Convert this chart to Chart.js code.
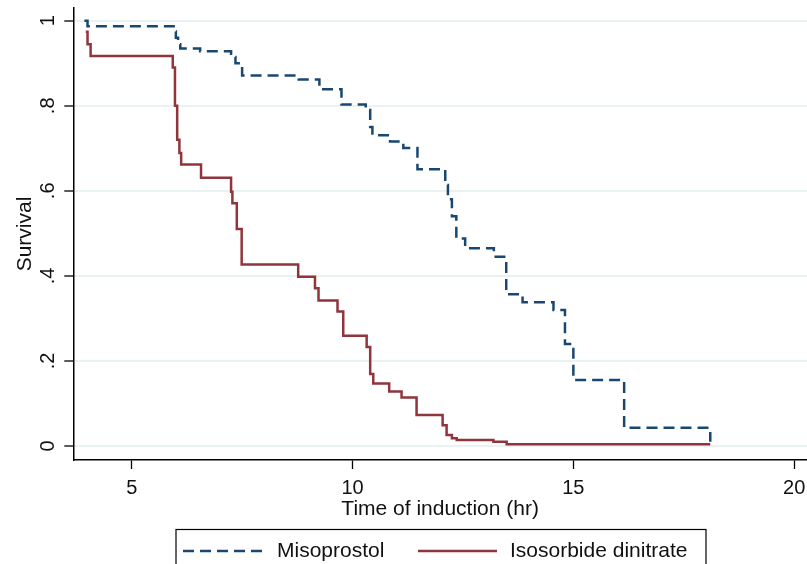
<!DOCTYPE html>
<html>
<head>
<meta charset="utf-8">
<script src="https://cdn.jsdelivr.net/npm/chart.js@4.4.1/dist/chart.umd.min.js"></script>
<style>
  html, body { margin: 0; padding: 0; background: #fff; }
  #wrap { width: 807px; height: 564px; }
</style>
</head>
<body>
<div id="wrap"><canvas id="km" width="807" height="564"></canvas></div>
<script>
// Kaplan-Meier steps: time (hr) and survival after each drop
const misoTimes = [3.93, 4.0, 5.95, 6.0, 6.05, 6.1, 6.55, 7.25, 7.35, 7.5, 8.78, 9.25, 9.75,
  10.3, 10.4, 10.45, 10.85, 11.15, 11.47, 12.1, 12.16, 12.25, 12.35, 12.55, 13.2, 13.48,
  13.85, 14.55, 14.81, 15.0, 16.15, 18.06, 18.1];
const misoSurv = [1.0, 0.987, 0.975, 0.96, 0.945, 0.935, 0.928, 0.915, 0.9, 0.871, 0.862, 0.839, 0.803,
  0.79, 0.75, 0.731, 0.716, 0.701, 0.651, 0.614, 0.58, 0.54, 0.488, 0.465, 0.445, 0.357,
  0.338, 0.32, 0.24, 0.155, 0.043, 0.043, 0.01];

const isdnTimes = [3.96, 4.0, 4.07, 5.93, 5.98, 6.03, 6.08, 6.12, 6.57, 7.25, 7.28, 7.38, 7.49,
  8.77, 9.15, 9.23, 9.66, 9.79, 10.32, 10.4, 10.47, 10.83, 11.11, 11.45, 12.04, 12.13,
  12.25, 12.36, 13.19, 13.49, 18.1];
const isdnSurv = [0.974, 0.945, 0.917, 0.89, 0.80, 0.72, 0.689, 0.662, 0.631, 0.598, 0.571, 0.51, 0.427,
  0.398, 0.371, 0.342, 0.316, 0.259, 0.233, 0.169, 0.147, 0.128, 0.114, 0.073, 0.049, 0.026,
  0.018, 0.014, 0.01, 0.004, 0.004];

const seriesNames = ['Misoprostol', 'Isosorbide dinitrate'];
const xTicks = [5, 10, 15, 20];
const yTicks = [0, 0.2, 0.4, 0.6, 0.8, 1];
const yTickLabels = ['0', '.2', '.4', '.6', '.8', '1'];

const toPoints = (xs, ys) => xs.map((x, i) => ({ x: x, y: ys[i] }));
const font = 'Liberation Sans, Arial, sans-serif';

// boxed legend under the axis title, drawn from the dataset styles
const boxLegend = {
  id: 'boxLegend',
  afterDraw(chart) {
    const ctx = chart.ctx;
    const ds = chart.data.datasets;
    const y = 551;
    ctx.save();
    ctx.strokeStyle = '#000';
    ctx.lineWidth = 1.2;
    ctx.strokeRect(176, 529.5, 530, 60);
    const items = [
      { x0: 183, x1: 263, tx: 277 },
      { x0: 418, x1: 497, tx: 510 }
    ];
    items.forEach((it, i) => {
      ctx.beginPath();
      ctx.strokeStyle = ds[i].borderColor;
      ctx.lineWidth = ds[i].borderWidth;
      ctx.setLineDash(ds[i].borderDash || []);
      ctx.moveTo(it.x0, y);
      ctx.lineTo(it.x1, y);
      ctx.stroke();
      ctx.setLineDash([]);
      ctx.fillStyle = '#111';
      ctx.font = '21px ' + font;
      ctx.textBaseline = 'middle';
      ctx.textAlign = 'left';
      ctx.fillText(ds[i].label, it.tx, y);
    });
    ctx.restore();
  }
};

new Chart(document.getElementById('km'), {
  type: 'line',
  data: {
    datasets: [
      {
        label: seriesNames[0],
        data: toPoints(misoTimes, misoSurv),
        borderColor: '#1a476f',
        borderWidth: 2.5,
        borderDash: [11, 6],
        stepped: 'before',
        pointRadius: 0,
        fill: false
      },
      {
        label: seriesNames[1],
        data: toPoints(isdnTimes, isdnSurv),
        borderColor: '#90353b',
        borderWidth: 2.5,
        stepped: 'before',
        pointRadius: 0,
        fill: false
      }
    ]
  },
  options: {
    responsive: false,
    animation: false,
    devicePixelRatio: 1,
    layout: { padding: { top: 8, right: 0, bottom: 42, left: 0 } },
    plugins: { legend: { display: false }, tooltip: { enabled: false } },
    scales: {
      x: {
        type: 'linear',
        min: 3.678,
        max: 20.29,
        afterBuildTicks: s => { s.ticks = xTicks.map(v => ({ value: v })); },
        afterFit: s => { s.height = 62; s.paddingLeft = 0; s.paddingRight = 0; },
        grid: { drawOnChartArea: false, drawTicks: true, tickLength: 9, tickColor: '#000', tickWidth: 1.3 },
        border: { display: true, color: '#000', width: 1.5 },
        ticks: { color: '#111', font: { family: font, size: 20 }, padding: 7, maxRotation: 0 },
        title: { display: true, text: 'Time of induction (hr)', color: '#111',
          font: { family: font, size: 21 }, padding: { top: 0, bottom: 0 } }
      },
      y: {
        type: 'linear',
        min: -0.033,
        max: 1.03,
        afterBuildTicks: s => { s.ticks = yTicks.map(v => ({ value: v })); },
        afterFit: s => { s.width = 73.3; s.paddingTop = 0; s.paddingBottom = 0; },
        grid: { color: '#eaf2f3', lineWidth: 2, tickLength: 9, tickColor: '#000', tickWidth: 1.3 },
        border: { display: true, color: '#000', width: 1.5 },
        ticks: {
          color: '#111',
          font: { family: font, size: 20 },
          minRotation: 90,
          maxRotation: 90,
          crossAlign: 'center',
          padding: 7,
          callback: v => yTickLabels[yTicks.indexOf(v)]
        },
        title: { display: true, text: 'Survival', color: '#111',
          font: { family: font, size: 21 }, padding: { top: 13, bottom: 0 } }
      }
    }
  },
  plugins: [boxLegend]
});
</script>
</body>
</html>
